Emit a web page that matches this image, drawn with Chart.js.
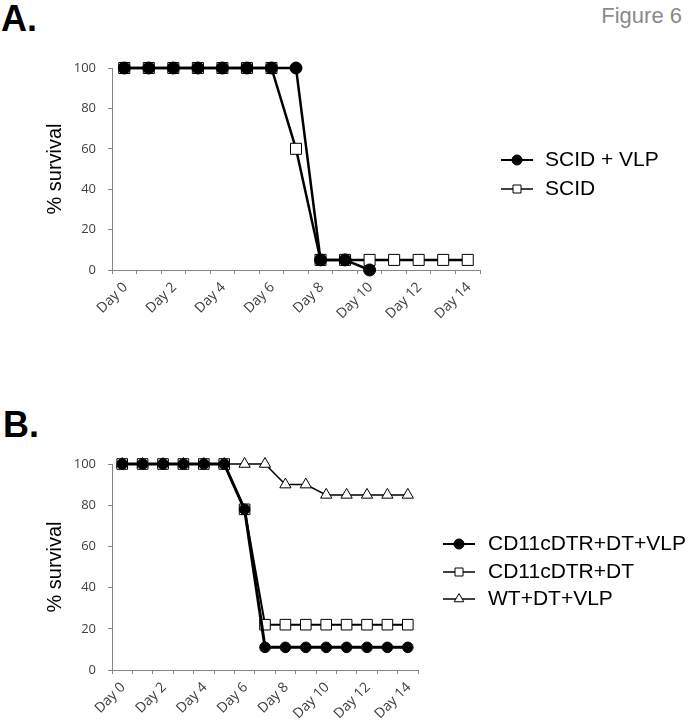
<!DOCTYPE html>
<html>
<head>
<meta charset="utf-8">
<script src="https://cdn.jsdelivr.net/npm/chart.js@4"></script>
<style>
body { margin:0; background:#fff; width:689px; height:726px; position:relative; overflow:hidden; font-family:"Liberation Sans", Arial, sans-serif; }
.panel { position:absolute; left:0; width:689px; }
.tag { position:absolute; font-weight:bold; font-size:36px; line-height:1; color:#000; }
#fig { position:absolute; right:7px; top:5px; font-size:22px; line-height:1; color:#8a8a8a; }
</style>
</head>
<body>
<div class="tag" style="left:1px;top:1px">A.</div>
<div class="tag" style="left:3px;top:407px">B.</div>
<div id="fig">Figure 6</div>
<div class="panel" style="top:0;height:350px"><canvas id="chartA"></canvas></div>
<div class="panel" style="top:380px;height:346px"><canvas id="chartB"></canvas></div>
<script>
// days on the x axis
const days = ['Day 0','Day 1','Day 2','Day 3','Day 4','Day 5','Day 6','Day 7',
              'Day 8','Day 9','Day 10','Day 11','Day 12','Day 13','Day 14'];

// panel A
const scidVlp = [100,100,100,100,100,100,100,100,5,5,0,null,null,null,null];
const scid    = [100,100,100,100,100,100,100,60,5,5,5,5,5,5,5];

// panel B
const dtrDtVlp = [100,100,100,100,100,100,78,11,11,11,11,11,11,11,11];
const dtrDt    = [100,100,100,100,100,100,78,22,22,22,22,22,22,22,22];
const wtDtVlp  = [100,100,100,100,100,100,100,100,90,90,85,85,85,85,85];

const axisGray = '#868686';
const tickColor = '#404040';
const yFont = { family: '"Open Sans", sans-serif', size: 13 };
const xFont = { family: '"Open Sans", sans-serif', size: 14 };

function marker(ctx, style, x, y, r, fill) {
  ctx.beginPath();
  if (style === 'circle') ctx.arc(x, y, r, 0, Math.PI * 2);
  else if (style === 'rect') ctx.rect(x - r, y - r, 2 * r, 2 * r);
  else { ctx.moveTo(x, y - r); ctx.lineTo(x + r * 0.866, y + r / 2); ctx.lineTo(x - r * 0.866, y + r / 2); ctx.closePath(); }
  ctx.fillStyle = fill;
  ctx.fill();
  ctx.lineWidth = 1;
  ctx.strokeStyle = '#000';
  ctx.stroke();
}

// legend at the side: line with marker in the middle, then the label
const sideLegend = {
  id: 'sideLegend',
  afterDraw(chart, args, o) {
    const ctx = chart.ctx;
    ctx.save();
    chart.data.datasets.forEach((ds, i) => {
      const y = o.rows[i];
      ctx.strokeStyle = '#000';
      ctx.lineWidth = o.lineWidths[i];
      ctx.beginPath();
      ctx.moveTo(o.x, y);
      ctx.lineTo(o.x + o.len, y);
      ctx.stroke();
      marker(ctx, ds.pointStyle, o.x + o.len / 2, y, o.radii[i], ds.pointBackgroundColor);
      ctx.fillStyle = '#000';
      ctx.font = '21px "Liberation Sans", Arial, sans-serif';
      ctx.textBaseline = 'middle';
      ctx.fillText(ds.label, o.textX, y);
    });
    ctx.restore();
  }
};

function scales(xHeight) {
  return {
    x: {
      type: 'category',
      offset: true,
      grid: { offset: true, drawOnChartArea: false, tickLength: 4, color: axisGray },
      border: { color: axisGray },
      ticks: {
        autoSkip: false, minRotation: 45, maxRotation: 45, padding: 5, labelOffset: 1,
        color: tickColor, font: xFont,
        callback: function (v, i) { return i % 2 === 0 ? this.getLabelForValue(v) : ''; }
      },
      afterFit: s => { s.height = xHeight; }
    },
    y: {
      min: 0, max: 100,
      grid: { drawOnChartArea: false, tickLength: 4, color: axisGray },
      border: { color: axisGray },
      ticks: { stepSize: 20, padding: 12, color: tickColor, font: yFont },
      title: { display: true, text: '% survival', color: '#000',
               font: { family: '"Liberation Sans", Arial, sans-serif', size: 20 }, padding: { top: 4, bottom: 0 } },
      afterFit: s => { s.width = 73; }
    }
  };
}

function series(label, data, style, r, lw, fill) {
  return {
    label: label, data: data, borderColor: '#000', borderWidth: lw, tension: 0, clip: false,
    pointStyle: style, pointRadius: r, pointHoverRadius: r,
    pointBackgroundColor: fill, pointBorderColor: '#000', pointBorderWidth: 1
  };
}

new Chart(document.getElementById('chartA'), {
  type: 'line',
  data: {
    labels: days,
    datasets: [
      series('SCID + VLP', scidVlp, 'circle', 6, 2.5, '#000'),
      series('SCID', scid, 'rect', 7.8, 2.5, '#fff')
    ]
  },
  options: {
    responsive: true, maintainAspectRatio: false, animation: false,
    layout: { padding: { left: 39, top: 68, right: 209, bottom: 10 } },
    plugins: {
      legend: { display: false }, tooltip: { enabled: false },
      sideLegend: { x: 501, len: 32, textX: 545, rows: [160, 189], lineWidths: [2, 1.5], radii: [5, 4] }
    },
    scales: scales(70)
  },
  plugins: [sideLegend]
});

new Chart(document.getElementById('chartB'), {
  type: 'line',
  data: {
    labels: days,
    datasets: [
      series('CD11cDTR+DT+VLP', dtrDtVlp, 'circle', 5.3, 3, '#000'),
      series('CD11cDTR+DT', dtrDt, 'rect', 7.5, 2, '#fff'),
      series('WT+DT+VLP', wtDtVlp, 'triangle', 6.5, 1.5, '#fff')
    ]
  },
  options: {
    responsive: true, maintainAspectRatio: false, animation: false,
    layout: { padding: { left: 39, top: 84, right: 271, bottom: 6 } },
    plugins: {
      legend: { display: false }, tooltip: { enabled: false },
      sideLegend: { x: 443, len: 32, textX: 488, rows: [164, 192, 219], lineWidths: [2, 1.5, 1.5], radii: [5, 4, 5.5] }
    },
    scales: scales(50)
  },
  plugins: [sideLegend]
});
</script>
</body>
</html>
